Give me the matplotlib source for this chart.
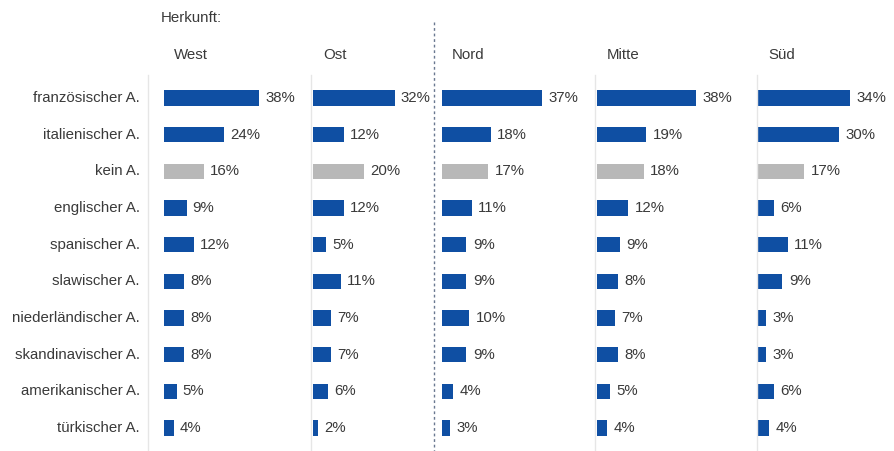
import matplotlib.pyplot as plt

# Akzent-Präferenzen nach Herkunft (Anteile in %)
kategorien = ['französischer A.', 'italienischer A.', 'kein A.', 'englischer A.',
              'spanischer A.', 'slawischer A.', 'niederländischer A.',
              'skandinavischer A.', 'amerikanischer A.', 'türkischer A.']
regionen = ['West', 'Ost', 'Nord', 'Mitte', 'Süd']
west = [38, 24, 16, 9, 12, 8, 8, 8, 5, 4]
ost = [32, 12, 20, 12, 5, 11, 7, 7, 6, 2]
nord = [37, 18, 17, 11, 9, 9, 10, 9, 4, 3]
mitte = [38, 19, 18, 12, 9, 8, 7, 8, 5, 4]
sued = [34, 30, 17, 6, 11, 9, 3, 3, 6, 4]
werte = [west, ost, nord, mitte, sued]

W, H = 894, 451
blau = '#0f4fa3'
grau = '#b8b8b8'
textfarbe = '#3a3a3a'
fs = 10.8

# Position der Balken-Nulllinie (px) und Pixel pro Prozentpunkt je Spalte
x0 = [164, 313, 442, 597, 758]
px_pro_prozent = [2.5, 2.55, 2.7, 2.6, 2.7]
linie_x = [148, 311, None, 595, 757]

fig = plt.figure(figsize=(W / 100, H / 100), dpi=100)
plt.rcParams['font.family'] = ['Liberation Sans', 'DejaVu Sans']

oben, unten = 79.7, 446.3
for i in range(len(regionen)):
    breite = 50 * px_pro_prozent[i]
    ax = fig.add_axes([x0[i] / W, (H - unten) / H, breite / W, (unten - oben) / H])
    ax.set_xlim(0, 50)
    ax.set_ylim(len(kategorien) - 0.5, -0.5)
    ax.axis('off')
    farben = [grau if k == 'kein A.' else blau for k in kategorien]
    ax.barh(range(len(kategorien)), werte[i], height=0.42, color=farben)
    for j, v in enumerate(werte[i]):
        ax.text(v + 2.4, j, f'{v}%', va='center', ha='left', fontsize=fs, color=textfarbe)
    fig.text((x0[i] + 10) / W, 1 - 55 / H, regionen[i], fontsize=fs, color=textfarbe,
             va='center', ha='left')

# Kategorienbeschriftung links
for j, k in enumerate(kategorien):
    y = oben + (j + 0.5) * (unten - oben) / len(kategorien)
    fig.text(140 / W, 1 - y / H, k, fontsize=fs, color=textfarbe, va='center', ha='right')

fig.text(161 / W, 1 - 18 / H, 'Herkunft:', fontsize=fs, color=textfarbe, va='center', ha='left')

# dünne Grundlinien der Spalten und gestrichelte Trennlinie
for lx in linie_x:
    if lx is not None:
        fig.add_artist(plt.Line2D([lx / W, lx / W], [1 - 75 / H, 0], color='#e6e6e6', lw=1))
fig.add_artist(plt.Line2D([434 / W, 434 / W], [1 - 22 / H, 0], color='#6a7890', lw=1,
                          ls=(0, (2, 2))))

fig.savefig('out.png', dpi=100)
